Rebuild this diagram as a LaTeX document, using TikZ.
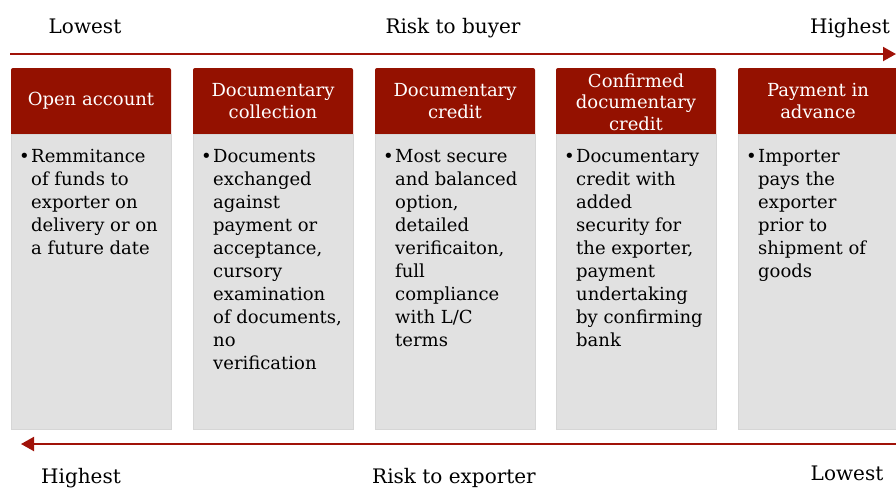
\documentclass[tikz,border=0pt]{standalone}
\usepackage{fontspec}
\setmainfont{DejaVu Serif}
\usetikzlibrary{arrows.meta}

\definecolor{hdr}{HTML}{941100}
\definecolor{arr}{HTML}{A01208}
\definecolor{panelfill}{HTML}{E1E1E1}
\definecolor{panelline}{HTML}{D6D6D6}

\begin{document}
\begin{tikzpicture}[x=1pt,y=-1pt,
  header/.style={fill=hdr, rounded corners=2pt, minimum width=160pt,
    minimum height=68pt, anchor=north west, inner sep=0pt, outer sep=0pt},
  panel/.style={fill=panelfill, draw=panelline, line width=0.8pt,
    minimum width=160pt, minimum height=295pt, anchor=north west,
    inner sep=0pt, outer sep=0pt},
  htext/.style={text=white, align=center, inner sep=0pt,
    font=\fontsize{18}{21.5}\selectfont},
  btext/.style={align=left, anchor=north west, inner sep=0pt,
    font=\fontsize{18}{23}\selectfont},
  bullet/.style={anchor=base west, inner sep=0pt,
    font=\fontsize{18}{23}\selectfont},
  scalelabel/.style={anchor=base, inner sep=0pt,
    font=\fontsize{20}{24}\selectfont},
  riskarrow/.style={draw=arr, line width=2pt,
    -{Triangle[length=13pt,width=14pt]}}
]
\useasboundingbox (0,0) rectangle (896,488);

% scale: risk to buyer
\node[scalelabel] (buyLow) at (85,33) {Lowest};
\node[scalelabel] (buyMid) at (453,33) {Risk to buyer};
\node[scalelabel, anchor=base east] (buyHigh) at (890,33) {Highest};
\coordinate (topL) at (10,54);
\coordinate (topR) at (896,54);
\draw[riskarrow] (topL) -- (topR);

% column 1
\node[header] (h1) at (11,68) {};
\node[panel] (p1) at (11,134) {};
\node[htext] (t1) at (91,101) {Open account};
\node[bullet] (b1) at (19,162) {•};
\node[btext] (d1) at (31,145.9) {\strut Remmitance\\of funds to\\exporter on\\delivery or on\\a future date};

% column 2
\node[header] (h2) at (193,68) {};
\node[panel] (p2) at (193,134) {};
\node[htext] (t2) at (273,101) {Documentary\\collection};
\node[bullet] (b2) at (201,162) {•};
\node[btext] (d2) at (213,145.9) {\strut Documents\\exchanged\\against\\payment or\\acceptance,\\cursory\\examination\\of documents,\\no\\verification};

% column 3
\node[header] (h3) at (375,68) {};
\node[panel] (p3) at (375,134) {};
\node[htext] (t3) at (455,101) {Documentary\\credit};
\node[bullet] (b3) at (383,162) {•};
\node[btext] (d3) at (395,145.9) {\strut Most secure\\and balanced\\option,\\detailed\\verificaiton,\\full\\compliance\\with L/C\\terms};

% column 4
\node[header] (h4) at (556,68) {};
\node[panel] (p4) at (556,134) {};
\node[htext] (t4) at (636,102) {Confirmed\\documentary\\credit};
\node[bullet] (b4) at (564,162) {•};
\node[btext] (d4) at (576,145.9) {\strut Documentary\\credit with\\added\\security for\\the exporter,\\payment\\undertaking\\by confirming\\bank};

% column 5
\node[header] (h5) at (738,68) {};
\node[panel] (p5) at (738,134) {};
\node[htext] (t5) at (818,101) {Payment in\\advance};
\node[bullet] (b5) at (746,162) {•};
\node[btext] (d5) at (758,145.9) {\strut Importer\\pays the\\exporter\\prior to\\shipment of\\goods};

% scale: risk to exporter
\coordinate (botR) at (896,444);
\coordinate (botL) at (21,444);
\draw[riskarrow] (botR) -- (botL);
\node[scalelabel] (expHigh) at (81,483) {Highest};
\node[scalelabel] (expMid) at (454,483) {Risk to exporter};
\node[scalelabel] (expLow) at (847,480) {Lowest};
\end{tikzpicture}
\end{document}
